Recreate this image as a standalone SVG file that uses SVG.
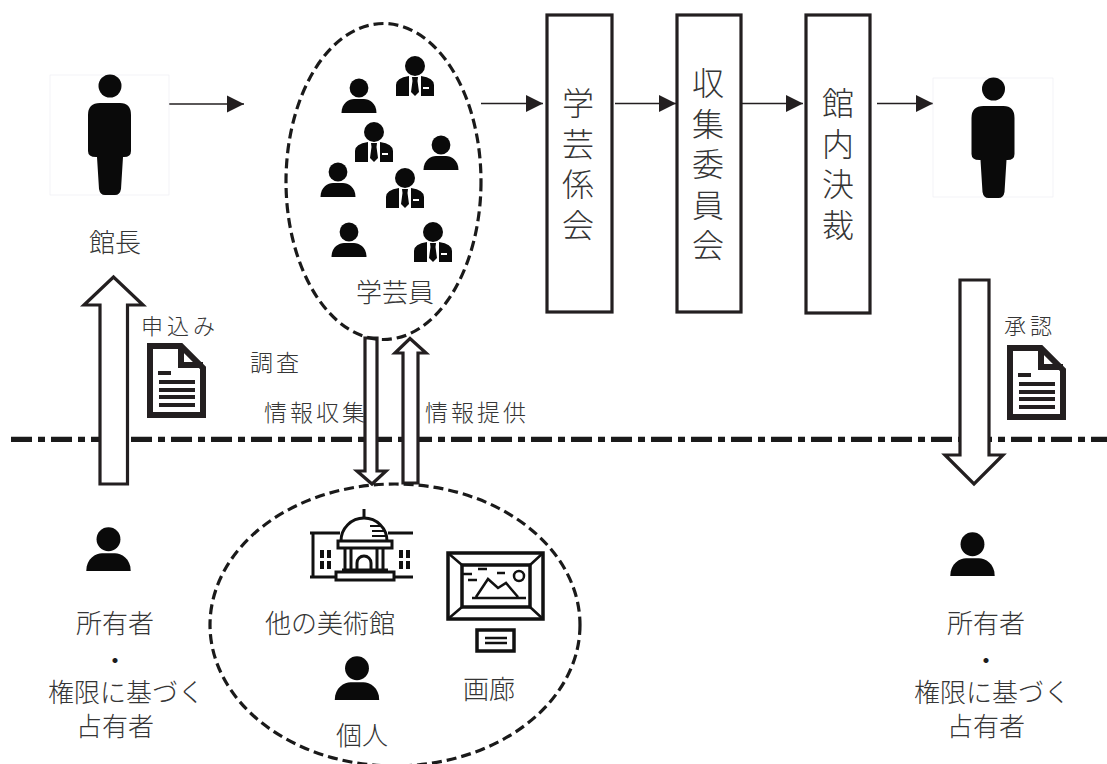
<svg xmlns="http://www.w3.org/2000/svg" width="1107" height="764" viewBox="0 0 1107 764">
<style>
text{font-family:"Noto Sans CJK JP","Liberation Serif",serif;font-weight:300;fill:#333;text-anchor:middle;opacity:.99}
.l{font-size:26px}.m{font-size:23px;letter-spacing:3px}.s{font-size:22px;letter-spacing:4px}
.dot{font-size:18px;font-weight:900;fill:#1a1a1a}
.v{font-size:32px;letter-spacing:8.5px;writing-mode:vertical-rl;text-anchor:start}
.box{fill:#fff;stroke:#231f20;stroke-width:3.2}
.dash{fill:none;stroke:#1a1a1a;stroke-width:3.2;stroke-dasharray:10 5}
.arrow{fill:#fff;stroke:#231f20;stroke-width:3.2;stroke-linejoin:miter}
.thin{stroke:#231f20;stroke-width:1.5;fill:none;marker-end:url(#tri)}
.k{fill:#0a0a0a}
</style>
<defs>
<marker id="tri" markerUnits="userSpaceOnUse" markerWidth="18" markerHeight="18" refX="17" refY="9" orient="auto"><path d="M0,0.5L17,9L0,17.5Z" fill="#231f20"/></marker>
<g id="stand"><circle cx="60" cy="11" r="11.5" class="k"/><path class="k" d="M50,28H70Q81,28 81,40V76Q81,82 74,82H73L71,114Q70,120 65,120H55Q50,120 49,114L47,82H46Q38,82 38,76V40Q38,28 50,28Z"/></g>
<g id="bust"><circle cx="0" cy="-16" r="9.400" class="k"/><path class="k" d="M-17.5,9C-17.5,-1 -10,-5 -5,-5H5C10,-5 17.5,-1 17.5,9Z"/></g>
<g id="suit"><circle cx="0" cy="-19" r="10" class="k"/><path class="k" d="M-19,11V0Q-19,-7 -6,-9V11ZM19,11V0Q19,-7 6,-9V11Z"/><path class="k" d="M-3,-8H3L2.5,-4L4,7L0,11L-4,7L-2.5,-4Z"/><rect x="8" y="2" width="6" height="2" fill="#fff"/></g>
<g id="doc"><path fill="#fff" stroke="#231f20" stroke-width="6" d="M0,0H31L53,22V69H0Z"/><path fill="#231f20" d="M28,0H34V16H53V22H28Z"/><rect x="8" y="25" width="13" height="4" fill="#231f20"/><rect x="9" y="34" width="36" height="4" fill="#231f20"/><rect x="9" y="42" width="36" height="4" fill="#231f20"/><rect x="9" y="49" width="36" height="4" fill="#231f20"/><rect x="9" y="57" width="36" height="4" fill="#231f20"/></g>
</defs>
<rect width="1107" height="764" fill="#fff"/>
<g id="connectors">
<path d="M11,439.3H1107" fill="none" stroke="#1a1a1a" stroke-width="5.3" stroke-dasharray="21 6 7 6"/>
<path class="thin" d="M169,104H244"/>
<path class="thin" d="M481,103.5H543"/>
<path class="thin" d="M615,103.5H676"/>
<path class="thin" d="M742,103.5H803"/>
<path class="thin" d="M877,103.5H933"/>
<path class="arrow" d="M100,484V305H84L113.5,277L143,305H127.5V484Z"/>
<path class="arrow" d="M365,338H377V471H386L372,484L357,471H365Z"/>
<path class="arrow" d="M403,483V353H395L410,338.500L426,353H418V483Z"/>
<path class="arrow" d="M960,280H989V455H1003L974,484L945,455H960Z"/>
</g>
<g id="n-kancho1"><rect x="50" y="75" width="119" height="120" fill="#fff" stroke="#ececf2" stroke-width="0.6"/><use href="#stand" x="50" y="75"/><text class="l" x="115" y="252">館長</text></g>
<g id="n-curators"><ellipse class="dash" cx="383.5" cy="181.5" rx="97.5" ry="158"/>
<use href="#bust" x="359" y="104"/><use href="#bust" x="441" y="161"/><use href="#bust" x="338" y="188"/><use href="#bust" x="349" y="248"/>
<use href="#suit" x="415" y="85"/><use href="#suit" x="374" y="151"/><use href="#suit" x="405" y="197"/><use href="#suit" x="433" y="251"/>
<text class="l" x="395" y="302">学芸員</text></g>
<g id="n-gakugei"><rect class="box" x="547" y="15" width="65" height="297"/><text class="v" x="578" y="87">学芸係会</text></g>
<g id="n-shushu"><rect class="box" x="677" y="15" width="64" height="297"/><text class="v" x="708" y="67">収集委員会</text></g>
<g id="n-kessai"><rect class="box" x="806" y="15" width="64" height="298"/><text class="v" x="838" y="87">館内決裁</text></g>
<g id="n-kancho2"><rect x="933" y="78" width="120" height="119" fill="#fff" stroke="#ececf2" stroke-width="0.6"/><use href="#stand" x="933.500" y="78"/></g>
<g id="n-mos"><text class="s" x="180" y="334">申込み</text><use href="#doc" x="150" y="346"/></g>
<g id="n-approve"><text class="s" x="1030" y="334">承認</text><use href="#doc" x="1010" y="348"/></g>
<g id="n-labels"><text class="m" x="276" y="371">調査</text><text class="m" x="316" y="421">情報収集</text><text class="m" x="477" y="421">情報提供</text></g>
<g id="n-owner1"><use href="#bust" transform="translate(108.500 559.600) scale(1.27)"/><text class="l" x="115" y="633">所有者</text><text class="dot" x="115" y="667">・</text><text class="l" x="126" y="702">権限に基づく</text><text class="l" x="115" y="736">占有者</text></g>
<g id="n-owner2"><use href="#bust" transform="translate(972.500 564.600) scale(1.27)"/><text class="l" x="986" y="633">所有者</text><text class="dot" x="986" y="667">・</text><text class="l" x="992" y="702">権限に基づく</text><text class="l" x="986" y="736">占有者</text></g>
<g id="n-others"><ellipse class="dash" cx="395" cy="625" rx="185" ry="141"/>
<text class="l" x="330" y="633">他の美術館</text>
<g fill="none" stroke="#111" stroke-width="3"><path d="M364,509V518"/><path d="M341,541A23,23 0 0 1 387,541"/><path d="M338,541H392V548H338Z"/><path d="M310,533H340M388,533H413M313,533V577M310,577H335M395,577H413"/><path d="M345,548V572M383,548V572M351,548V572M377,548V572"/><path d="M357,572V563A7,7 0 0 1 371,563V572"/><path d="M342,570H388M336,572H394V580H336Z"/></g>
<g fill="#111"><rect x="320" y="550" width="4" height="8"/><rect x="327" y="550" width="4" height="8"/><rect x="320" y="561" width="4" height="8"/><rect x="327" y="561" width="4" height="8"/><rect x="399" y="550" width="4" height="8"/><rect x="406" y="550" width="4" height="8"/><rect x="399" y="561" width="4" height="8"/><rect x="406" y="561" width="4" height="8"/><rect x="370" y="525" width="12" height="2"/><rect x="372" y="530" width="14" height="2"/><rect x="372" y="535" width="15" height="2"/></g>
<g fill="#fff" stroke="#111" stroke-width="3.500"><rect x="448" y="553" width="95" height="66"/><rect x="462" y="565" width="68" height="42"/><rect x="477" y="630" width="37" height="21"/></g>
<g fill="none" stroke="#111" stroke-width="2.500"><path d="M448,553L462,565M543,553L530,565M448,619L462,607M543,619L530,607"/><path d="M476,597L488,579L498,588L506,583L518,597M472,598H526"/><circle cx="519" cy="576" r="5"/><path d="M463,574H472M478,569H487M497,573H505M468,580H477M485,638H507M485,643H507"/></g>
<use href="#bust" transform="translate(357 688.600) scale(1.27)"/>
<text class="l" x="362" y="745">個人</text><text class="l" x="489" y="699">画廊</text></g>
</svg>
